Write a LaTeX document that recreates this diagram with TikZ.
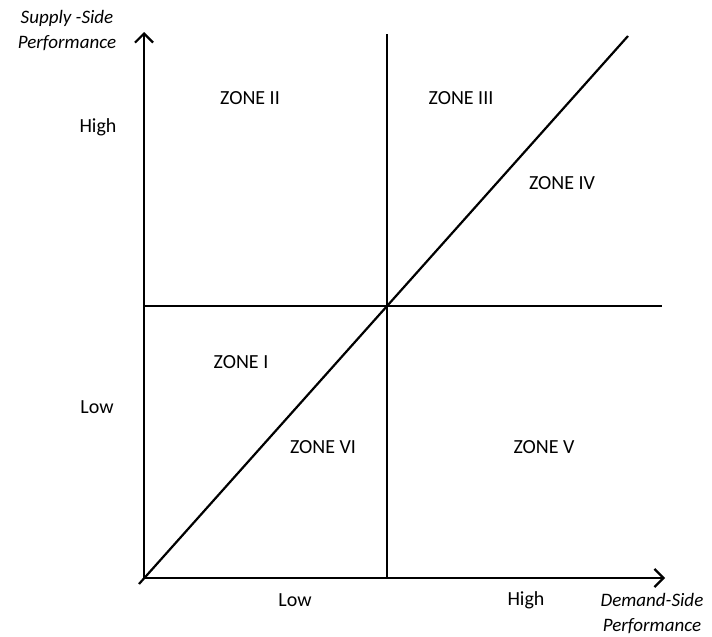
\documentclass[tikz,border=0pt]{standalone}
\usepackage{fontspec}
\setmainfont{Carlito}
\usetikzlibrary{arrows.meta}
\begin{document}
\begin{tikzpicture}[x=1pt,y=-1pt,
  axis/.style={line width=2.2pt,-{Straight Barb[length=9pt,width=18pt,line width=2.2pt]}},
  ln/.style={line width=2.2pt},
  lbl/.style={font=\fontsize{20}{22}\selectfont,inner sep=0pt},
  axlbl/.style={font=\fontsize{19}{25}\selectfont\itshape,inner sep=0pt,align=center}]
\useasboundingbox (0,0) rectangle (712,637);
\coordinate (O) at (144,578);
\coordinate (ytop) at (144,32);
\coordinate (xend) at (665,578);
\coordinate (hl) at (144,306);
\coordinate (hr) at (662,306);
\coordinate (vt) at (387,34);
\coordinate (vb) at (387,578);
\coordinate (d0) at (139,584);
\coordinate (d1) at (628,36);
\draw[ln] (hl) -- (hr);
\draw[ln] (vt) -- (vb);
\draw[ln] (d0) -- (d1);
\draw[axis] (O) -- (ytop);
\draw[axis] (O) -- (xend);
\node[lbl] (z2) at (250,98) {ZONE II};
\node[lbl] (z3) at (461,98) {ZONE III};
\node[lbl] (z4) at (562,183) {ZONE IV};
\node[lbl] (z1) at (241,362) {ZONE I};
\node[lbl] (z6) at (323,447) {ZONE VI};
\node[lbl] (z5) at (544,447) {ZONE V};
\node[lbl] (yh) at (98,127) {High};
\node[lbl] (yl) at (97,407) {Low};
\node[lbl] (xl) at (295,600) {Low};
\node[lbl] (xh) at (526,600) {High};
\node[axlbl] (ya) at (67,31) {Supply -Side\\Performance};
\node[axlbl] (xa) at (652,614) {Demand-Side\\Performance};
\end{tikzpicture}
\end{document}
